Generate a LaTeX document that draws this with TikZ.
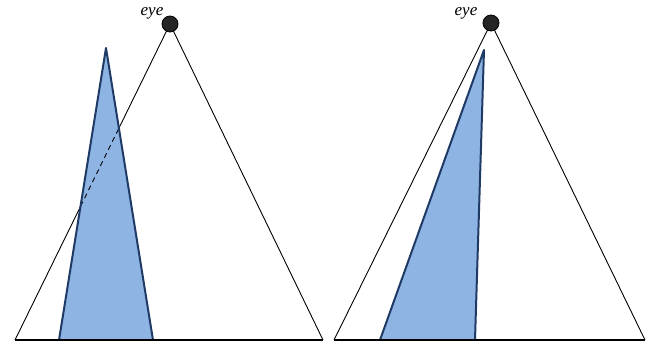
\documentclass[tikz,border=0pt]{standalone}
\usepackage{fontspec}
\setmainfont{Liberation Serif}
\begin{document}
\begin{tikzpicture}[x=1pt,y=-1pt,
  view/.style={draw=black,line width=0.9pt},
  baseline/.style={draw=black,line width=1.6pt},
  obj/.style={fill=objfill,draw=objedge,line width=2pt,line join=round},
  eyedot/.style={circle,fill=eyegray,draw=black,line width=0.8pt,minimum size=16pt,inner sep=0pt},
  eyelbl/.style={font=\fontsize{17}{17}\selectfont\itshape,inner sep=0pt}]
\definecolor{objfill}{HTML}{8EB4E3}
\definecolor{objedge}{HTML}{1F3A64}
\definecolor{eyegray}{HTML}{252525}
\useasboundingbox (0,0) rectangle (649,341);
% left panel
\coordinate (E1) at (170,24);
\coordinate (L1) at (15,340);
\coordinate (R1) at (323,340);
\coordinate (A1) at (106,48);
\coordinate (B1) at (59,340);
\coordinate (C1) at (153,340);
\draw[view] (E1) -- (L1);
\draw[view] (E1) -- (R1);
\fill[objfill] (A1) -- (B1) -- (C1) -- cycle;
\begin{scope}
\clip (A1) -- (B1) -- (C1) -- cycle;
\draw[view,line width=0.9pt,dash pattern=on 5pt off 4pt] (E1) -- (L1);
\end{scope}
\draw[obj,fill=none] (B1) -- (A1) -- (C1);
\draw[baseline] (L1) -- (R1);
\node[eyedot] (eye1) at (E1) {};
\node[eyelbl] (t1) at (152,13) {eye};
% right panel
\coordinate (E2) at (491,23);
\coordinate (L2) at (334,340);
\coordinate (R2) at (645,340);
\coordinate (A2) at (484,50);
\coordinate (B2) at (380,340);
\coordinate (C2) at (475,340);
\draw[view] (E2) -- (L2);
\draw[view] (E2) -- (R2);
\fill[objfill] (A2) -- (B2) -- (C2) -- cycle;
\draw[obj,fill=none] (B2) -- (A2) -- (C2);
\draw[baseline] (L2) -- (R2);
\node[eyedot] (eye2) at (E2) {};
\node[eyelbl] (t2) at (466,13) {eye};
\end{tikzpicture}
\end{document}
